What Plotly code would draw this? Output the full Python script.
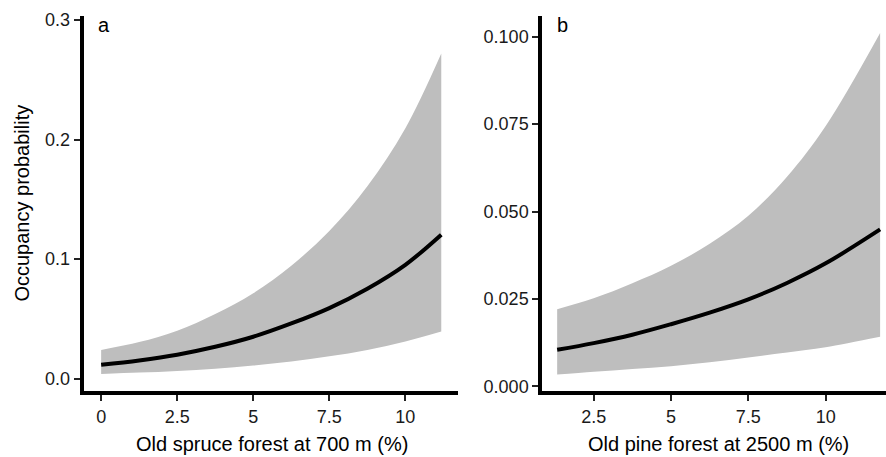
import plotly.graph_objects as go

# Panel a: Old spruce forest at 700 m (%)
x_a = [0, 1.25, 2.5, 3.75, 5, 6.25, 7.5, 8.75, 10, 11.18]
fit_a = [0.0115, 0.0152, 0.0200, 0.0266, 0.0350, 0.0461, 0.0590, 0.0752, 0.0952, 0.1204]
upper_a = [0.0240, 0.0305, 0.0400, 0.0540, 0.0715, 0.0945, 0.1235, 0.1610, 0.2095, 0.2720]
lower_a = [0.0039, 0.0050, 0.0064, 0.0083, 0.0109, 0.0143, 0.0186, 0.0240, 0.0310, 0.0393]

# Panel b: Old pine forest at 2500 m (%)
x_b = [1.32, 2.5, 3.75, 5, 6.25, 7.5, 8.75, 10, 11.76]
fit_b = [0.0105, 0.0124, 0.0148, 0.0178, 0.0211, 0.0249, 0.0296, 0.0352, 0.0449]
upper_b = [0.0221, 0.0252, 0.0295, 0.0345, 0.0408, 0.0488, 0.0600, 0.0745, 0.1011]
lower_b = [0.0034, 0.0042, 0.0050, 0.0058, 0.0069, 0.0083, 0.0097, 0.0112, 0.0142]

ticks_x_a = [0, 2.5, 5, 7.5, 10]
ticklabels_x_a = ["0", "2.5", "5", "7.5", "10"]
ticks_y_a = [0.0, 0.1, 0.2, 0.3]
ticklabels_y_a = ["0.0", "0.1", "0.2", "0.3"]
ticks_x_b = [2.5, 5, 7.5, 10]
ticklabels_x_b = ["2.5", "5", "7.5", "10"]
ticks_y_b = [0.0, 0.025, 0.05, 0.075, 0.1]
ticklabels_y_b = ["0.000", "0.025", "0.050", "0.075", "0.100"]

W, H = 886, 457
FONT = "Liberation Sans, Arial, sans-serif"
BAND = "#bebebe"

fig = go.Figure()

def add_panel(x, lo, up, fit, xa, ya):
    fig.add_trace(go.Scatter(x=x, y=lo, mode="lines", line=dict(width=0, shape="spline", color=BAND),
                             xaxis=xa, yaxis=ya, showlegend=False, hoverinfo="skip"))
    fig.add_trace(go.Scatter(x=x, y=up, mode="lines", line=dict(width=0, shape="spline", color=BAND),
                             fill="tonexty", fillcolor=BAND, xaxis=xa, yaxis=ya,
                             showlegend=False, hoverinfo="skip"))
    fig.add_trace(go.Scatter(x=x, y=fit, mode="lines", line=dict(width=4, shape="spline", color="black"),
                             xaxis=xa, yaxis=ya, showlegend=False))

add_panel(x_a, lower_a, upper_a, fit_a, "x", "y")
add_panel(x_b, lower_b, upper_b, fit_b, "x2", "y2")

def px_x(p):
    return p / W

def px_y(p):
    return 1 - p / H

axis_common = dict(showline=True, linewidth=3.5, linecolor="black", ticks="outside", ticklen=6,
                   tickwidth=1.5, tickcolor="#222", showgrid=False, zeroline=False,
                   tickfont=dict(family=FONT, size=18, color="#1a1a1a"))

title_font = dict(family=FONT, size=20, color="black")

fig.update_layout(
    width=W, height=H, margin=dict(l=0, r=0, t=0, b=0),
    paper_bgcolor="white", plot_bgcolor="white",
    xaxis=dict(domain=[px_x(83.5), px_x(458)], range=[-0.58, 11.73], anchor="y",
               tickvals=ticks_x_a, ticktext=ticklabels_x_a, **axis_common),
    yaxis=dict(domain=[px_y(395), px_y(11)], range=[-0.0107, 0.3036], anchor="x",
               tickvals=ticks_y_a, ticktext=ticklabels_y_a, **axis_common),
    xaxis2=dict(domain=[px_x(542), 1.0], range=[0.83, 11.95], anchor="y2",
                tickvals=ticks_x_b, ticktext=ticklabels_x_b, **axis_common),
    yaxis2=dict(domain=[px_y(395), px_y(11)], range=[-0.0014, 0.1060], anchor="x2",
                tickvals=ticks_y_b, ticktext=ticklabels_y_b, **axis_common),
    annotations=[
        dict(text="Occupancy probability", x=px_x(22), y=px_y(203), xref="paper", yref="paper",
             xanchor="center", yanchor="middle", textangle=-90, showarrow=False, font=title_font),
        dict(text="Old spruce forest at 700 m (%)", x=px_x(272), y=px_y(449), xref="paper", yref="paper",
             xanchor="center", yanchor="middle", showarrow=False, font=title_font),
        dict(text="Old pine forest at 2500 m (%)", x=px_x(718), y=px_y(449), xref="paper", yref="paper",
             xanchor="center", yanchor="middle", showarrow=False, font=title_font),
        dict(text="a", x=px_x(96), y=px_y(20), xref="paper", yref="paper", xanchor="left",
             yanchor="middle", showarrow=False, font=title_font),
        dict(text="b", x=px_x(555), y=px_y(20), xref="paper", yref="paper", xanchor="left",
             yanchor="middle", showarrow=False, font=title_font),
    ],
)

fig.write_html("out.html", config={"displayModeBar": False},
               post_script="document.body.style.margin='0';document.body.style.overflow='hidden';")
